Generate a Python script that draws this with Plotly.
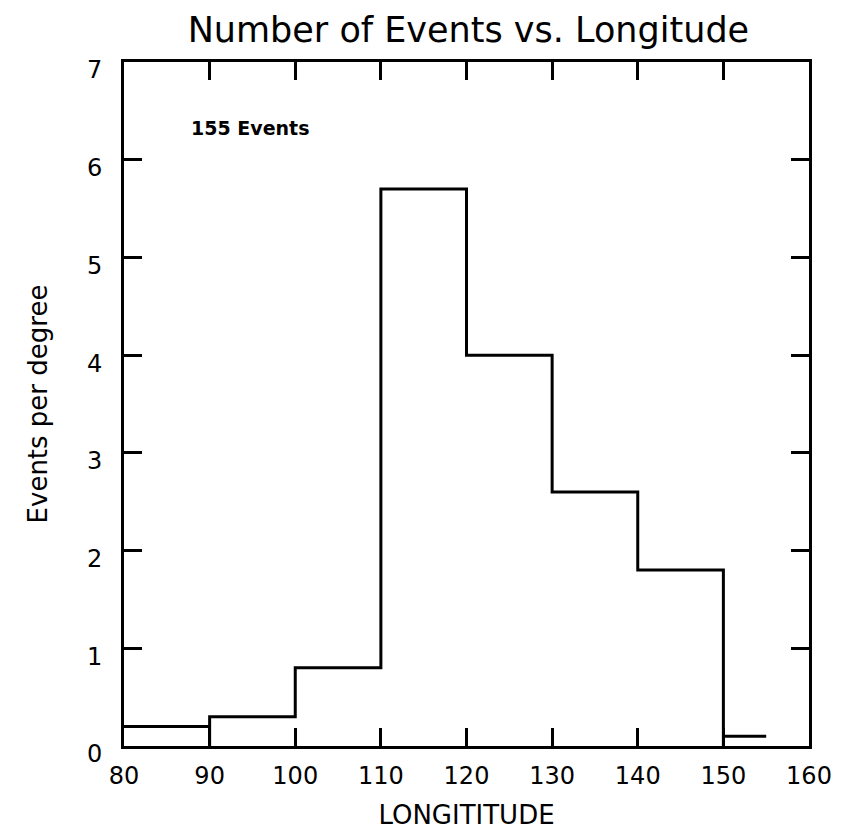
import plotly.graph_objects as go

# Histogram data (events per degree)
bin_left = [80, 90, 100, 110, 120, 130, 140, 150]
bin_right = [90, 100, 110, 120, 130, 140, 150, 155]
counts = [0.2, 0.3, 0.8, 5.7, 4.0, 2.6, 1.8, 0.1]

x_ticks = [80, 90, 100, 110, 120, 130, 140, 150, 160]
y_ticks = [0, 1, 2, 3, 4, 5, 6, 7]

# Build the step outline from the bins
xs, ys = [], []
xs += [bin_left[0], bin_right[0], None]
ys += [counts[0], counts[0], None]
xs.append(bin_left[1]); ys.append(0)
for i in range(1, len(counts) - 1):
    xs += [bin_left[i], bin_right[i]]
    ys += [counts[i], counts[i]]
xs.append(bin_right[-2]); ys.append(0)
xs.append(None); ys.append(None)
xs += [bin_left[-1], bin_right[-1]]
ys += [counts[-1], counts[-1]]

fig = go.Figure()
fig.add_trace(go.Scatter(x=xs, y=ys, mode="lines",
                         line=dict(color="black", width=3),
                         showlegend=False, hoverinfo="skip"))

font_family = "DejaVu Sans"
fig.update_layout(
    width=844, height=838,
    margin=dict(l=124, r=29, t=62, b=89),
    paper_bgcolor="white", plot_bgcolor="white",
    font=dict(family=font_family, color="black"),
    title=dict(text="Number of Events vs. Longitude", x=0.555, xanchor="center",
               y=1 - 30 / 838, yanchor="middle",
               font=dict(size=35, family=font_family, color="black")),
    xaxis=dict(range=[80, 160], tickvals=x_ticks, ticks="inside", ticklen=18,
               tickwidth=3, tickcolor="black", showline=True, linewidth=3,
               linecolor="black", mirror="ticks", showgrid=False, zeroline=False,
               tickfont=dict(size=24), ticklabelstandoff=6,
               title=dict(text="LONGITITUDE", font=dict(size=26), standoff=18)),
    yaxis=dict(range=[0, 7], tickvals=y_ticks, ticks="inside", ticklen=18,
               tickwidth=3, tickcolor="black", showline=True, linewidth=3,
               linecolor="black", mirror="ticks", showgrid=False, zeroline=False,
               tickfont=dict(size=24), ticklabelstandoff=14, ticklabelshift=8,
               title=dict(text="Events per degree", font=dict(size=26), standoff=32)),
    annotations=[dict(text="<b>155 Events</b>", x=0.184, y=0.904,
                      xref="paper", yref="paper", xanchor="center", yanchor="middle",
                      showarrow=False, font=dict(size=19, family=font_family))],
)

fig.write_html("out.html")
